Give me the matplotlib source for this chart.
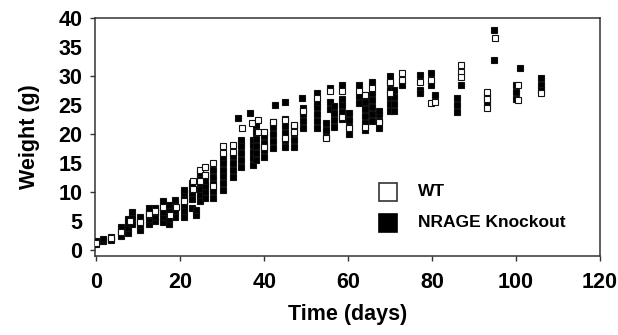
import numpy as np
import matplotlib
matplotlib.use("Agg")
import matplotlib.pyplot as plt

# ---------------- data ----------------
ko_days = [0, 1.5, 3.5, 6, 7.5, 8.5, 10.5, 12.5, 14, 15.8, 17.3, 18.8, 20.8, 22.8, 23.8,
           24.8, 26, 27.8, 30.3, 32.5, 33.8, 34.5, 36.7, 37.3, 38, 40, 42, 42.6, 45,
           47.2, 49, 49.3, 52.7, 54.8, 55.7, 56.6, 58.5, 60.3, 62.7, 64, 65.8, 67.3,
           70, 71, 72.8, 77.2, 79.8, 80.8, 86, 87, 93, 94.8, 100, 101, 106]
ko_weights = [
    [1.0, 1.5], [1.5, 2.0], [1.8, 2.3], [2.5, 3.3, 4.0], [3.0, 3.8, 4.6, 5.3],
    [4.5, 5.5, 6.5], [3.5, 4.3, 5.0, 5.7], [4.5, 5.3, 6.0, 6.8, 7.3],
    [5.0, 5.8, 6.6, 7.3], [4.8, 5.7, 6.6, 7.5, 8.5], [4.5, 5.3, 6.2, 7.0, 7.8],
    [5.8, 6.7, 7.6, 8.6], [5.8, 6.8, 7.8, 8.8, 9.8, 10.4], [7.2, 8.8, 9.8, 10.8, 11.6],
    [6.0, 7.0], [8.5, 9.5, 10.5, 11.5, 12.5, 13.3], [9.0, 10.0, 11.0, 12.0, 13.0],
    [9.0, 10.2, 11.4, 12.6, 13.8], [10.3, 11.5, 12.7, 13.9, 15.1, 16.0],
    [12.6, 13.8, 15.0, 16.2], [22.7], [14.3, 15.5, 16.7, 17.9, 19.0], [23.6],
    [14.6, 15.8, 17.0, 18.2, 19.0], [15.5, 16.7, 17.9, 19.1, 20.3, 21.5],
    [16.0, 17.2, 18.4, 19.6], [17.6, 18.8, 20.0, 21.2, 22.0], [25.0],
    [25.5, 17.8, 19.0, 20.2, 21.4, 22.6], [17.8, 19.0, 20.2, 21.4], [26.2],
    [21.0, 22.2, 23.4, 24.5], [27.0, 21.0, 22.2, 23.4, 24.6, 25.5], [19.5, 20.7, 21.9],
    [28.0, 25.5, 24.4], [21.3, 22.5, 23.7, 24.8], [28.4, 26.0, 25.0, 23.8, 22.6],
    [20.0, 21.2, 22.4, 23.6], [28.5, 26.5, 25.4], [20.7, 21.9, 23.1, 24.3, 25.5, 26.7],
    [29.0, 27.0, 25.8, 24.6, 23.4, 22.2], [21.0, 22.2, 23.4, 24.0],
    [24.0, 25.2, 26.4, 27.6, 28.8, 30.0], [24.0, 25.2, 26.4, 27.6], [28.4],
    [30.2, 27.6, 27.0], [30.6, 28.4], [26.7], [23.8, 25.0, 26.2], [28.4],
    [26.5, 25.3], [38.0, 32.8], [28.4, 27.2, 26.0], [31.4], [29.7, 28.5, 27.6]]

wt_days = [0, 3.5, 6, 8, 10.5, 12.5, 14, 16, 17.5, 19, 21, 23, 24.8, 26, 27.8, 30.3,
           32.5, 34.8, 37, 38.5, 40, 42, 45, 47.2, 49.3, 52.7, 54.8, 55.7, 58.5, 60.3,
           62.7, 64, 65.8, 67.3, 70, 72.8, 77.2, 79.8, 80.8, 87, 93, 95, 100.5, 106]
wt_weights = [
    [1.3], [2.1], [3.2], [5.0], [4.8], [6.2], [6.8], [7.4], [6.0], [7.5], [8.5],
    [12.0, 10.5], [13.8, 12.0], [14.3, 13.0], [15.0, 11.0], [16.7, 18.0], [18.1, 17.0],
    [21.0], [21.9], [20.3, 22.4], [20.3, 17.8], [22.0], [22.4, 19.3], [21.5, 20.3],
    [24.0], [26.2], [19.3], [27.4], [27.4, 23.0], [21.0], [27.5], [26.7, 21.2],
    [28.0], [22.0], [27.0, 29.0], [30.6, 29.4], [29.0], [29.3, 25.3], [25.6],
    [31.9, 30.7, 29.8], [27.2, 26.0, 24.5], [36.5], [28.4, 25.9], [27.0]]

x_ticks = [0, 20, 40, 60, 80, 100, 120]
y_major = [0, 10, 20, 30, 40]
y_minor = [5, 15, 25, 35]
series_labels = ["WT", "NRAGE Knockout"]

# ---------------- figure ----------------
plt.rcParams['font.family'] = ['Liberation Sans', 'DejaVu Sans']
plt.rcParams['font.weight'] = 'bold'

fig = plt.figure(figsize=(6.18, 3.35), dpi=100)
ax = fig.add_axes([95/618, 1 - 256/335, 505/618, 238/335])

def flatten(days, groups):
    xs, ys = [], []
    for d, g in zip(days, groups):
        for w in g:
            xs.append(d)
            ys.append(w)
    return np.array(xs), np.array(ys)

kx, ky = flatten(ko_days, ko_weights)
wx, wy = flatten(wt_days, wt_weights)

ax.plot(kx, ky, ls='none', marker='s', ms=5.0, mfc='black', mec='#111111', mew=0.8,
        zorder=3)
ax.plot(wx, wy, ls='none', marker='s', ms=5.0, mfc='white', mec='#111111', mew=0.8,
        zorder=4)

ax.set_xlim(-0.3, 120)
ax.set_ylim(-1, 40)
ax.set_xticks(x_ticks)
ax.set_yticks(y_major)
ax.set_yticks(y_minor, minor=True)
ax.set_yticklabels([str(v) for v in y_minor], minor=True)

ax.tick_params(axis='both', which='major', direction='out', length=3.6, width=1.0,
               labelsize=15.5, color='#333333')
ax.tick_params(axis='y', which='major', pad=5.5)
ax.tick_params(axis='y', which='minor', length=0, pad=9.1, labelsize=15.5)
ax.tick_params(axis='x', which='major', pad=8)
for lab in ax.get_xticklabels() + ax.get_yticklabels() + ax.get_yticklabels(minor=True):
    lab.set_fontweight('bold')

for s in ax.spines.values():
    s.set_linewidth(1.1)
    s.set_color('#333333')

ax.set_xlabel('Time (days)', fontsize=15.5, fontweight='bold', labelpad=8)
ax.set_ylabel('Weight (g)', fontsize=15.5, fontweight='bold', labelpad=13)

# legend (manual)
ax.plot([0.580], [0.269], transform=ax.transAxes, marker='s', ms=12.5, mfc='white',
        mec='#333333', mew=1.2, ls='none', clip_on=False)
ax.plot([0.580], [0.139], transform=ax.transAxes, marker='s', ms=12.5, mfc='black',
        mec='black', mew=1.2, ls='none', clip_on=False)
ax.text(0.640, 0.269, series_labels[0], transform=ax.transAxes, fontsize=12.5,
        fontweight='bold', va='center', ha='left')
ax.text(0.640, 0.139, series_labels[1], transform=ax.transAxes, fontsize=12.5,
        fontweight='bold', va='center', ha='left')

fig.savefig('out.png', dpi=100)
